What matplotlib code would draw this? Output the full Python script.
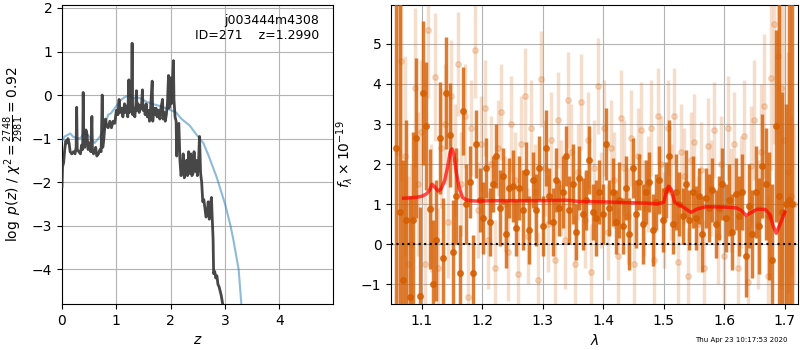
import matplotlib
matplotlib.use('Agg')
import matplotlib.pyplot as plt
import numpy as np

# p(z) panel
zg = [0.0, 0.01, 0.03, 0.05, 0.07, 0.09, 0.11, 0.13, 0.15, 0.18, 0.21, 0.24, 0.26, 0.27, 0.28, 0.31,
      0.34, 0.36, 0.38, 0.39, 0.40, 0.42, 0.44, 0.46, 0.48, 0.50, 0.53, 0.55, 0.56, 0.58, 0.60, 0.62,
      0.64, 0.67, 0.70, 0.72, 0.74, 0.75, 0.77, 0.80, 0.82, 0.85, 0.88, 0.91, 0.94, 0.97, 1.00, 1.03,
      1.05, 1.07, 1.10, 1.12, 1.15, 1.17, 1.19, 1.21, 1.23, 1.24, 1.26, 1.28, 1.29, 1.30, 1.32, 1.34,
      1.36, 1.37, 1.38, 1.40, 1.42, 1.44, 1.46, 1.48, 1.49, 1.51, 1.53, 1.55, 1.57, 1.59, 1.61, 1.63,
      1.66, 1.67, 1.69, 1.71, 1.73, 1.75, 1.78, 1.80, 1.82, 1.85, 1.86, 1.88, 1.90, 1.92, 1.94, 1.96,
      1.97, 1.99, 2.01, 2.03, 2.05, 2.06, 2.08, 2.10, 2.11, 2.13, 2.15, 2.17, 2.19, 2.21, 2.23, 2.25,
      2.27, 2.29, 2.31, 2.33, 2.35, 2.37, 2.39, 2.41, 2.43, 2.45, 2.47, 2.49, 2.51, 2.53, 2.55, 2.57,
      2.59, 2.61, 2.63, 2.65, 2.67, 2.69, 2.71, 2.73, 2.75, 2.76, 2.78, 2.79, 2.81, 2.83, 2.85, 2.87,
      2.89, 2.91, 2.93, 2.95, 2.97]
logp = [-2.1, -1.65, -1.55, -1.25, -1.05, -1.1, -1.0, -1.1, -1.3, -1.35, -1.3, -1.35, -1.2, -0.28, -1.25, -1.3,
        -1.35, -1.15, -1.25, 0.06, -1.0, -1.2, -0.8, -0.9, -1.25, -1.1, -1.3, -0.49, -1.25, -1.35, -1.3, -1.2,
        -1.4, -1.35, -1.25, -1.3, 0.0, -1.2, -1.0, -0.55, -0.7, -0.75, -0.6, -0.75, -0.6, -0.65, -0.35, -0.45,
        -0.1, -0.4, -0.3, -0.5, -0.2, -0.4, -0.25, -0.5, 0.35, -0.4, -0.3, -0.15, 1.19, -0.45, -0.3, -0.5,
        -0.2, 0.1, -0.35, -0.2, -0.4, -0.25, -0.3, 0.12, -0.35, -0.25, -0.45, -0.2, -0.5, -0.35, -0.6, -0.3,
        0.32, -0.6, -0.3, -0.45, -0.3, -0.5, -0.35, -0.55, -0.3, -0.1, -0.55, -0.4, -0.6, -0.45, -0.2, 0.45,
        -0.3, 0.4, -0.2, 0.2, 0.79, -0.1, -0.5, -0.6, -1.4, -0.7, -0.65, -1.5, -1.85, -1.7, -1.35, -1.9,
        -1.8, -1.5, -1.85, -1.3, -1.8, -1.35, -1.85, -1.8, -1.3, -1.75, -1.5, -1.85, -1.6, -0.95, -1.8, -2.0,
        -2.45, -2.4, -2.6, -2.8, -2.75, -2.45, -2.85, -2.55, -2.35, -2.7, -3.3, -4.1, -4.05, -4.2, -4.15, -4.35,
        -4.4, -4.5, -4.6, -4.75, -4.9]
zb = [0.0, 0.05, 0.1, 0.15, 0.2, 0.28, 0.35, 0.4, 0.5, 0.6, 0.7, 0.78, 0.85, 0.9, 1.0, 1.08,
      1.15, 1.25, 1.3, 1.38, 1.45, 1.55, 1.65, 1.8, 1.95, 2.1, 2.2, 2.35, 2.5, 2.6, 2.7, 2.85,
      3.0, 3.1, 3.15, 3.25, 3.3]
chib = [-1.05, -0.95, -0.92, -0.88, -0.95, -1.0, -0.98, -0.85, -0.95, -1.1, -0.95, -0.75, -0.45, -0.42, -0.25, -0.12,
        -0.05, 0.0, -0.08, -0.05, -0.08, -0.15, -0.2, -0.25, -0.32, -0.4, -0.55, -0.7, -0.95, -1.1, -1.4, -1.9,
        -2.5, -3.0, -3.3, -4.0, -4.8]

# spectrum panel
wa = np.linspace(1.058, 1.7125, 120)
fa = [2.4, 0.8, -0.9, 0.6, -1.3, 0.6, 2.65, -1.28, 3.78, 2.95, 0.88, -1.0, 0.1, 2.65, -0.35, 3.78,
      2.73, -0.2, 1.2, -0.72, 3.33, 1.0, 1.55, -0.72, 2.5, 1.1, 0.65, 1.9, 0.55, 1.5, 2.2, 0.9,
      1.7, 0.25, 1.4, 1.45, 0.4, 1.4, 0.85, 1.8, 0.35, 1.6, 0.85, 1.9, 0.45, 2.4, 1.2, 0.55,
      1.6, 0.9, 1.3, 2.2, 0.85, 1.5, 0.3, 1.65, 0.75, 1.1, 2.1, 0.8, 0.65, 1.3, 0.75, 2.5,
      0.9, 1.3, 0.55, 1.1, 0.45, 1.4, 0.25, 1.9, 0.75, 1.55, 0.5, 1.3, 1.55, 0.35, 1.05, 1.6,
      0.6, 1.35, 2.2, 0.5, 1.3, 1.0, 0.7, 1.5, 0.6, 1.3, 0.65, 1.2, 0.25, 1.15, 0.9, 1.35,
      0.5, 0.9, 1.5, 0.65, 1.1, 0.3, 1.25, 0.7, 1.3, -0.3, 0.95, 0.25, 1.3, 0.45, 1.95, 1.5,
      0.7, -0.4, 2.95, 1.2, 0.8, 1.0, 1.1, 1.0]
ea = [8, 6, 3.0, 2.5, 2.5, 2.2, 2.0, 2.2, 1.8, 1.6, 1.5, 1.6, 1.5, 1.4, 1.5, 1.4,
      1.3, 1.3, 1.2, 1.2, 1.1, 1.0, 0.9, 0.95, 0.85, 0.8, 0.9, 0.75, 0.85, 0.7, 0.8, 0.95,
      0.7, 0.85, 0.75, 0.9, 0.7, 0.8, 1.0, 0.75, 0.85, 0.7, 0.9, 0.8, 0.75, 0.95, 0.7, 0.85,
      0.8, 0.7, 0.9, 0.75, 0.85, 1.0, 0.7, 0.8, 0.9, 0.75, 0.85, 0.7, 0.95, 0.8, 0.75, 0.9,
      0.7, 0.85, 0.8, 0.95, 0.7, 0.8, 0.9, 0.75, 0.85, 0.7, 1.0, 0.8, 0.75, 0.9, 0.7, 0.85,
      0.8, 0.7, 0.9, 0.75, 0.95, 0.8, 0.7, 0.85, 0.75, 0.9, 0.8, 0.7, 0.95, 0.75, 0.85, 0.8,
      0.85, 0.8, 0.9, 0.85, 0.9, 0.95, 0.9, 1.0, 0.95, 1.0, 1.05, 1.1, 1.15, 1.2, 1.3, 1.4,
      1.6, 1.9, 2.4, 6.0, 3.0, 2.5, 10, 10]
wb = np.linspace(1.061, 1.7155, 120)
fb = [2.3, 4.57, 2.2, -0.5, 0.0, 3.9, 1.5, 2.8, -0.5, 5.35, 0.9, 4.17, -0.6, 2.4, 3.0, 0.55,
      3.7, 2.1, 4.5, 1.5, 3.2, -1.3, 2.9, 4.85, 0.85, 2.5, 3.4, 0.1, 2.0, -0.6, 2.4, 3.3,
      1.0, -0.2, 3.0, 1.6, -0.75, 2.5, 3.7, 0.2, 2.9, 1.3, -0.9, 4.12, 1.9, 0.5, 2.6, -0.4,
      3.1, 1.4, 0.1, 3.6, 2.3, -0.5, 1.8, 3.55, 0.6, 2.6, -0.7, 1.9, 3.95, 1.1, 2.9, 0.3,
      2.4, 1.6, -0.3, 3.15, 1.9, 0.7, 2.65, -0.5, 2.2, 2.85, 0.9, 1.5, 2.9, -0.4, 3.2, 2.0,
      0.6, 2.9, 1.3, 3.2, -0.45, 2.3, 1.7, -0.8, 2.1, 2.55, 0.5, 1.85, -0.6, 2.45, 1.4, 2.85,
      0.2, 2.0, -0.3, 2.9, 1.1, 2.5, -0.6, 1.3, 2.7, -0.95, 1.95, 3.1, 0.5, 2.3, 3.45, -0.8,
      4.15, 5.5, 4.7, 3.9, 2.6, 1.8, 1.2, 1.0]
eb = [5, 3, 2.5, 2.2, 2.0, 2.0, 1.8, 1.8, 1.7, 1.7, 1.6, 1.6, 1.5, 1.5, 1.5, 1.4,
      1.4, 1.4, 1.3, 1.3, 1.3, 1.3, 1.2, 1.2, 1.2, 1.2, 1.2, 1.2, 1.2, 1.2, 1.2, 1.2,
      1.2, 1.2, 1.2, 1.2, 1.2, 1.2, 1.2, 1.2, 1.2, 1.2, 1.2, 1.2, 1.2, 1.2, 1.2, 1.2,
      1.2, 1.2, 1.2, 1.2, 1.2, 1.2, 1.2, 1.2, 1.2, 1.2, 1.2, 1.2, 1.2, 1.2, 1.2, 1.2,
      1.2, 1.2, 1.2, 1.2, 1.2, 1.2, 1.2, 1.2, 1.2, 1.2, 1.2, 1.2, 1.2, 1.2, 1.2, 1.2,
      1.2, 1.2, 1.2, 1.2, 1.2, 1.2, 1.2, 1.2, 1.2, 1.2, 1.2, 1.2, 1.2, 1.2, 1.2, 1.2,
      1.2, 1.2, 1.3, 1.3, 1.3, 1.3, 1.3, 1.4, 1.4, 1.4, 1.5, 1.5, 1.6, 1.7, 1.8, 2.0,
      2.3, 3, 4, 5, 6, 3, 2, 2]
wm = [1.07, 1.08, 1.09, 1.10, 1.107, 1.113, 1.117, 1.122, 1.127, 1.132, 1.138, 1.143, 1.147, 1.150, 1.153,
      1.157, 1.162, 1.167, 1.172, 1.18, 1.19, 1.22, 1.26, 1.30, 1.34, 1.36, 1.40, 1.44, 1.47, 1.49,
      1.50, 1.504, 1.508, 1.512, 1.518, 1.53, 1.545, 1.555, 1.57, 1.60, 1.62, 1.628, 1.636, 1.645,
      1.655, 1.668, 1.675, 1.681, 1.686, 1.692, 1.70]
fm = [1.15, 1.16, 1.17, 1.2, 1.25, 1.35, 1.5, 1.42, 1.33, 1.38, 1.6, 1.95, 2.3, 2.38, 2.25,
      1.8, 1.4, 1.18, 1.12, 1.09, 1.08, 1.09, 1.09, 1.09, 1.1, 1.07, 1.06, 1.04, 1.03, 1.01,
      1.05, 1.3, 1.45, 1.38, 1.05, 0.95, 0.8, 0.88, 0.94, 0.93, 0.91, 0.85, 0.72, 0.8,
      0.88, 0.87, 0.75, 0.45, 0.28, 0.5, 0.8]

g141 = (0.835, 0.369, 0.0)

fig = plt.figure(figsize=(8, 3.5), dpi=100)
ax1 = fig.add_axes([0.0775, 0.131, 0.339, 0.855])
ax2 = fig.add_axes([0.489, 0.131, 0.509, 0.855])

ax1.plot(zb, chib, color='tab:blue', alpha=0.5, lw=1.5, zorder=3)
ax1.plot(zg, logp, color='0.2', alpha=0.9, lw=2, zorder=4)
ax1.set_xlim(0, 4.99)
ax1.set_ylim(-4.8, 2.07)
ax1.set_xticks([0, 1, 2, 3, 4])
ax1.grid(color='0.7', lw=0.8)
ax1.set_axisbelow(True)
ax1.set_xlabel('$z$')
ax1.set_ylabel(r'$\log\ p(z)$ / $\chi^2=\frac{2748}{2981}=0.92$')
ax1.text(0.95, 0.97, 'j003444m4308\nID=271    z=1.2990', ha='right', va='top',
         transform=ax1.transAxes, fontsize=9, linespacing=1.2)

ax2.errorbar(wb, fb, yerr=eb, fmt='o', color=g141, alpha=0.2, ms=4, elinewidth=2.5,
             capsize=0, zorder=2)
ax2.errorbar(wa, fa, yerr=ea, fmt='o', color=g141, alpha=0.8, ms=4, elinewidth=2.5,
             capsize=0, zorder=3)
ax2.plot(wm, fm, color='r', alpha=0.7, lw=2.5, zorder=5)
ax2.axhline(0, color='k', ls=':', lw=1.5, zorder=6)
ax2.set_xlim(1.0495, 1.7225)
ax2.set_ylim(-1.49, 5.97)
ax2.set_xticks([1.1, 1.2, 1.3, 1.4, 1.5, 1.6, 1.7])
ax2.grid(color='0.7', lw=0.8)
ax2.set_axisbelow(True)
ax2.set_xlabel(r'$\lambda$')
ax2.set_ylabel(r'$f_\lambda \times 10^{-19}$')

fig.text(0.984, 0.028, 'Thu Apr 23 10:17:53 2020', ha='right', va='center', fontsize=5)

fig.savefig('out.png', dpi=100)
